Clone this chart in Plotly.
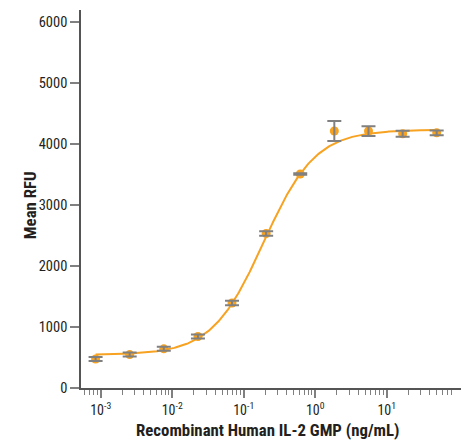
import numpy as np
import plotly.graph_objects as go

# IL-2 GMP dose response (3-fold dilution series)
conc_ng_ml = [0.000847, 0.00254, 0.00762, 0.0229, 0.0686, 0.206, 0.617, 1.85, 5.56, 16.7, 50.0]
mean_rfu = [475, 548, 642, 845, 1395, 2535, 3510, 4215, 4215, 4170, 4185]
rfu_err = [33, 33, 33, 33, 36, 38, 12, 165, 80, 50, 40]

# four-parameter logistic fit
fit_bottom = 545
fit_top = 4235
fit_ec50 = 0.19
fit_hill = 1.2

x_tickvals = [1e-3, 1e-2, 1e-1, 1e0, 1e1]
x_ticktext = ["10<sup>-3</sup>", "10<sup>-2</sup>", "10<sup>-1</sup>", "10<sup>0</sup>", "10<sup>1</sup>"]
y_tickvals = [0, 1000, 2000, 3000, 4000, 5000, 6000]
x_title = "Recombinant Human IL-2 GMP (ng/mL)"
y_title = "Mean RFU"

ORANGE = "#F7A221"
GREY = "#808080"
TEXT = "#231F20"
FONT = ("Roboto Condensed, Open Sans Condensed, Liberation Sans Narrow, "
        "Arial Narrow, Roboto, sans-serif")

xs = np.logspace(np.log10(conc_ng_ml[0]), np.log10(conc_ng_ml[-1]), 300)
ys = fit_bottom + (fit_top - fit_bottom) / (1 + (fit_ec50 / xs) ** fit_hill)

minor_vals = []
for dec in [1e-4, 1e-3, 1e-2, 1e-1, 1e0, 1e1]:
    for m in range(2, 10):
        v = m * dec
        if 5e-4 <= v <= 80:
            minor_vals.append(v)

fig = go.Figure()
fig.add_trace(go.Scatter(x=xs, y=ys, mode="lines",
                         line=dict(color=ORANGE, width=2), hoverinfo="skip"))
fig.add_trace(go.Scatter(x=conc_ng_ml, y=mean_rfu, mode="markers",
                         marker=dict(color=ORANGE, size=9)))
fig.add_trace(go.Scatter(x=conc_ng_ml, y=mean_rfu, mode="markers",
                         marker=dict(color="rgba(0,0,0,0)", size=1),
                         error_y=dict(type="data", array=rfu_err, color=GREY,
                                      thickness=2, width=7)))

fig.update_layout(
    width=469, height=441,
    margin=dict(l=81, r=8, t=10, b=53, autoexpand=False),
    paper_bgcolor="white", plot_bgcolor="white",
    showlegend=False,
    font=dict(family=FONT, color=TEXT, size=14),
)
fig.update_xaxes(
    type="log", range=[-3.276, 2.039], automargin=False,
    tickvals=x_tickvals, ticktext=x_ticktext,
    ticks="outside", ticklen=8, tickwidth=1.5, tickcolor=GREY,
    showline=True, linecolor="#555555", linewidth=1.5,
    showgrid=False, zeroline=False,
    tickfont=dict(size=14),
    minor=dict(tickvals=minor_vals, ticks="outside", ticklen=5,
               tickwidth=1.2, tickcolor=GREY, showgrid=False),
)
fig.update_yaxes(
    range=[0, 6200], automargin=False,
    tickvals=y_tickvals,
    ticks="outside", ticklen=9, tickwidth=1.5, tickcolor=GREY,
    showline=True, linecolor="#555555", linewidth=1.5,
    showgrid=False, zeroline=False,
    tickfont=dict(size=14.5),
)

# axis titles
fig.add_annotation(text="<b>" + x_title + "</b>", xref="paper", yref="paper",
                   x=0.491, y=-0.111, xanchor="center", yanchor="middle",
                   showarrow=False, font=dict(size=16.8, color=TEXT))
fig.add_annotation(text="<b>" + y_title + "</b>", xref="paper", yref="paper",
                   x=-0.134, y=0.484, xanchor="center", yanchor="middle",
                   textangle=-90, showarrow=False, font=dict(size=16.8, color=TEXT))

fig.write_html("out.html")
